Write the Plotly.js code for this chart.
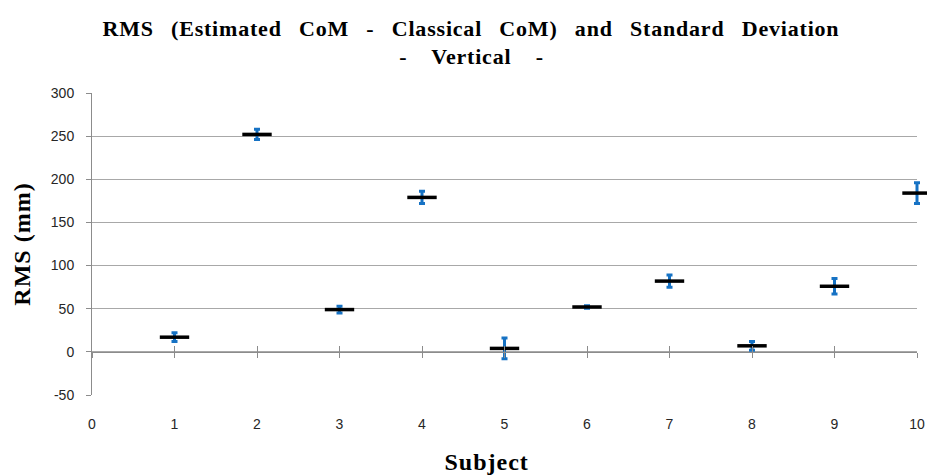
<!DOCTYPE html>
<html>
<head>
<meta charset="utf-8">
<script src="https://cdn.plot.ly/plotly-3.0.1.min.js"></script>
<style>
  html, body { margin: 0; padding: 0; background: #fff; }
  #chart { width: 927px; height: 476px; }
  /* loose, spread-out heading typography */
  #chart .gtitle { letter-spacing: 0.8px; word-spacing: 11px; }
  #chart .heading-line text { letter-spacing: 0.8px; word-spacing: 18px; }
  #chart .ytitle, #chart .axis-label text { letter-spacing: 1px; }
</style>
</head>
<body>
<div id="chart"></div>
<script>
// Subjects and their RMS (mm) with standard deviation
const subjects = [1, 2, 3, 4, 5, 6, 7, 8, 9, 10];
const rmsValues = [17, 252, 49, 179, 4, 52, 82, 7, 76, 184];
const stdDev = [5, 6, 4, 7, 12, 1.5, 7, 5, 9, 12];
const xTicks = [0, 1, 2, 3, 4, 5, 6, 7, 8, 9, 10];
const yTicks = [-50, 0, 50, 100, 150, 200, 250, 300];

const titleLine1 = 'RMS (Estimated CoM - Classical CoM) and Standard Deviation';
const titleLine2 = '- Vertical -';
const xTitle = 'Subject';
const yTitle = 'RMS (mm)';

const gridGray = '#A8A8A8';
const axisGray = '#8C8C8C';
const labelFont = { family: 'Liberation Sans, Arial, sans-serif', size: 14, color: '#262626' };
const serif = 'Liberation Serif, Times New Roman, serif';
const headFont = { family: serif, size: 22, color: '#000', weight: 'bold' };
const axisTitleFont = { family: serif, size: 24, color: '#000', weight: 'bold' };

const trace = {
  type: 'scatter',
  mode: 'markers',
  x: subjects,
  y: rmsValues,
  cliponaxis: false,
  error_y: {
    type: 'data',
    array: stdDev,
    visible: true,
    color: '#1672C4',
    thickness: 3,
    width: 3
  },
  marker: {
    symbol: 'line-ew',
    size: 21,
    color: '#000',
    line: { color: '#000', width: 3.5 }
  },
  hoverinfo: 'x+y',
  showlegend: false
};

// Invisible helper traces bind the extra x axes that carry the tick marks at y = 0
const helperUp = { type: 'scatter', x: [0, 10], y: [0, 0], xaxis: 'x2', mode: 'none', showlegend: false, hoverinfo: 'skip' };
const helperDown = { type: 'scatter', x: [0, 10], y: [0, 0], xaxis: 'x3', mode: 'none', showlegend: false, hoverinfo: 'skip' };

const yMin = -50, yMax = 300;
const zeroPos = (0 - yMin) / (yMax - yMin);

const layout = {
  width: 927,
  height: 476,
  margin: { l: 92, r: 10, t: 93, b: 81 },
  paper_bgcolor: '#fff',
  plot_bgcolor: '#fff',
  title: {
    text: titleLine1,
    font: headFont,
    x: 0.508,
    xanchor: 'center',
    y: 0.94,
    yanchor: 'middle'
  },
  annotations: [
    {
      text: titleLine2,
      font: headFont,
      xref: 'paper', yref: 'paper',
      x: 0.4594, y: 1.122,
      xanchor: 'center', yanchor: 'middle',
      showarrow: false
    },
    {
      text: xTitle,
      font: axisTitleFont,
      xref: 'paper', yref: 'paper',
      x: 0.478, y: -0.222,
      xanchor: 'center', yanchor: 'middle',
      showarrow: false
    }
  ],
  xaxis: {
    range: [0, 10],
    tickvals: xTicks,
    ticktext: xTicks.map(String),
    showgrid: false,
    zeroline: false,
    showline: false,
    ticks: '',
    ticklabelstandoff: 19,
    tickfont: labelFont,
    fixedrange: true
  },
  xaxis2: {
    overlaying: 'x',
    anchor: 'free',
    position: zeroPos,
    range: [0, 10],
    tickvals: xTicks,
    showticklabels: false,
    showgrid: false,
    zeroline: false,
    showline: true,
    linecolor: axisGray,
    linewidth: 1,
    ticks: 'inside',
    ticklen: 6,
    tickcolor: axisGray,
    fixedrange: true
  },
  xaxis3: {
    overlaying: 'x',
    anchor: 'free',
    position: zeroPos,
    range: [0, 10],
    tickvals: xTicks,
    showticklabels: false,
    showgrid: false,
    zeroline: false,
    showline: false,
    ticks: 'outside',
    ticklen: 5,
    tickcolor: axisGray,
    fixedrange: true
  },
  yaxis: {
    range: [yMin, yMax],
    tickvals: yTicks,
    ticktext: yTicks.map(String),
    showgrid: true,
    gridcolor: gridGray,
    gridwidth: 1,
    zeroline: false,
    showline: true,
    linecolor: axisGray,
    linewidth: 1,
    ticks: 'outside',
    ticklen: 5,
    tickcolor: axisGray,
    ticklabelstandoff: 9,
    tickfont: labelFont,
    fixedrange: true,
    title: {
      text: yTitle,
      font: axisTitleFont,
      standoff: 13
    }
  }
};

Plotly.newPlot('chart', [helperUp, helperDown, trace], layout, { displayModeBar: false, staticPlot: true })
  .then(function (gd) {
    // tag the annotation groups so the stylesheet can reach their text
    const groups = gd.querySelectorAll('.annotation');
    if (groups[0]) groups[0].classList.add('heading-line');
    if (groups[1]) groups[1].classList.add('axis-label');
    // let the error bar at the right edge show in full
    gd.querySelectorAll('.cartesianlayer [clip-path], .cartesianlayer [style*="clip-path"]')
      .forEach(function (el) {
        el.removeAttribute('clip-path');
        el.style.clipPath = 'none';
      });
  });
</script>
</body>
</html>
